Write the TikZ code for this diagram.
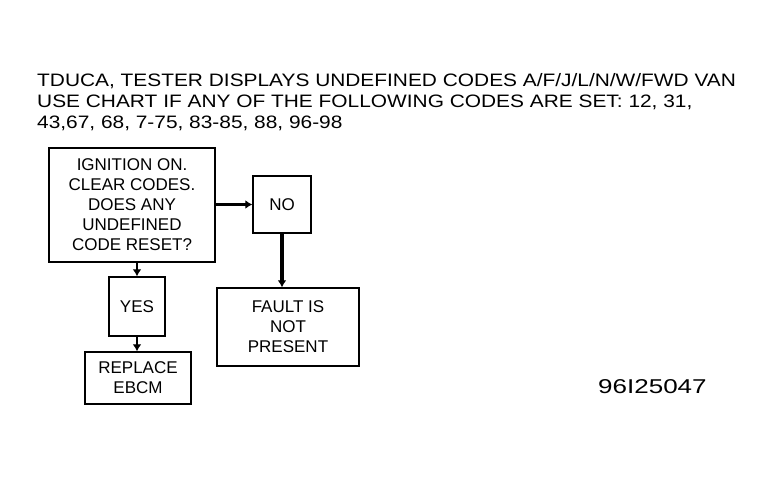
\documentclass[tikz,border=0pt]{standalone}
\usepackage{fontspec}
\setmainfont{Liberation Sans}
\newfontfamily\widefont[FakeStretch=1.16]{Liberation Sans}
\newfontfamily\widerfont[FakeStretch=1.3]{Liberation Sans}
\usetikzlibrary{arrows.meta}
\begin{document}
\begin{tikzpicture}[x=1pt,y=-1pt,
  box/.style={draw,line width=1.5pt,align=center,font=\fontsize{17}{20}\selectfont,inner sep=0pt},
  arr/.style={line width=3.5pt,-{Latex[length=7pt,width=9pt]}},
  txt/.style={anchor=north west,align=left,inner sep=0pt,font=\widefont\fontsize{18}{21}\selectfont}]
\useasboundingbox (0,0) rectangle (768,480);
\node[txt] (hdr) at (37,73) {TDUCA, TESTER DISPLAYS UNDEFINED CODES A/F/J/L/N/W/FWD VAN\\USE CHART IF ANY OF THE FOLLOWING CODES ARE SET: 12, 31,\\43,67, 68, 7-75, 83-85, 88, 96-98};
\node[box,minimum width=166pt,minimum height=114pt] (q) at (132,205) {IGNITION ON.\\CLEAR CODES.\\DOES ANY\\UNDEFINED\\CODE RESET?};
\node[box,minimum width=58pt,minimum height=57pt] (no) at (282,204.5) {NO};
\node[box,minimum width=142pt,minimum height=78pt] (f) at (288,327) {FAULT IS\\NOT\\PRESENT};
\node[box,minimum width=56pt,minimum height=59pt] (yes) at (137,306.5) {YES};
\node[box,minimum width=106pt,minimum height=52pt] (r) at (138,378) {REPLACE\\EBCM};
\node[txt,anchor=west,font=\widerfont\fontsize{20}{22}\selectfont] (id) at (598,387) {96I25047};
\draw[arr] (q.east|-no) -- (no.west);
\draw[arr] (no.south) -- (f.north-|no.south);
\draw[arr,line width=2.5pt] (q.south-|yes) -- (yes.north);
\draw[arr,line width=2.5pt] (yes.south) -- (r.north-|yes.south);
\end{tikzpicture}
\end{document}
